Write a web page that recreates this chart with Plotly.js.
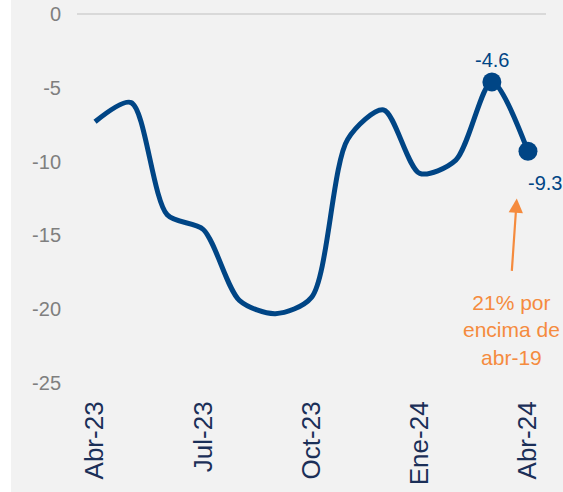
<!DOCTYPE html>
<html><head><meta charset="utf-8">
<script src="https://cdn.plot.ly/plotly-3.0.1.min.js"></script>
<style>html,body{margin:0;padding:0;background:#fff;overflow:hidden}#c{position:absolute;left:11px;top:0;width:552px;height:492px}</style>
</head><body><div id="c"></div>
<script>
const months = ['Abr-23','May-23','Jun-23','Jul-23','Ago-23','Sep-23','Oct-23','Nov-23','Dic-23','Ene-24','Feb-24','Mar-24','Abr-24'];
const values = [-7.3, -6.0, -13.6, -14.6, -19.4, -20.3, -19.2, -8.5, -6.5, -10.8, -9.9, -4.6, -9.3];
const tickLabels = ['Abr-23','Jul-23','Oct-23','Ene-24','Abr-24'];
const yTicks = [0, -5, -10, -15, -20, -25];
const yTickText = ['0', '-5', '-10', '-15', '-20', '-25'];
const navy = '#004585';
const orange = '#F58B3E';
const n = months.length;
const traces = [
  {x: months, y: values, type:'scatter', mode:'lines', line:{color:navy, width:5, shape:'spline', smoothing:0.8}, hoverinfo:'skip', cliponaxis:false},
  {x: months.slice(n-2), y: values.slice(n-2), type:'scatter', mode:'markers', marker:{color:navy, size:19}, hoverinfo:'skip', cliponaxis:false}
];
const layout = {
  width:552, height:492,
  paper_bgcolor:'#f2f2f2', plot_bgcolor:'#f2f2f2',
  margin:{l:66, r:17, t:14, b:109},
  showlegend:false,
  font:{family:'Liberation Sans, Arial, sans-serif'},
  xaxis:{type:'category', range:[-0.5, 12.5], tickvals:tickLabels, ticktext:tickLabels, tickangle:-90,
    tickfont:{size:26, color:'#1B2F58'}, ticks:'outside', ticklen:7, tickcolor:'rgba(0,0,0,0)',
    showgrid:false, zeroline:false, showline:false, fixedrange:true},
  yaxis:{range:[-25, 0], tickvals:yTicks, ticktext:yTickText, tickfont:{size:20, color:'#7F7F7F'}, ticks:'outside', ticklen:11,
    tickcolor:'rgba(0,0,0,0)', showgrid:false, zeroline:true, zerolinecolor:'#D9D9D9', zerolinewidth:2,
    showline:false, fixedrange:true},
  annotations:[
    {x: months[n-2], y: values[n-2], text: '-4.6', showarrow:false, yshift:22,
      font:{size:20, color:navy}},
    {x: months[n-1], y: values[n-1], text: '-9.3', showarrow:false, xanchor:'left', xshift:-2, yshift:-32,
      font:{size:20, color:navy}},
    {x: 11.69, y: -12.5, xref:'x', yref:'y', ax: 11.55, ay: -17.5, axref:'x', ayref:'y', text:'', showarrow:true,
      arrowhead:2, arrowsize:1.3, arrowwidth:2.2, arrowcolor:orange},
    {x: 11.55, y: -21.4, text:'21% por<br>encima de<br>abr-19', showarrow:false, font:{size:21, color:orange},
      align:'center', yanchor:'middle'}
  ]
};
Plotly.newPlot('c', traces, layout, {staticPlot:true, displayModeBar:false});
</script></body></html>
